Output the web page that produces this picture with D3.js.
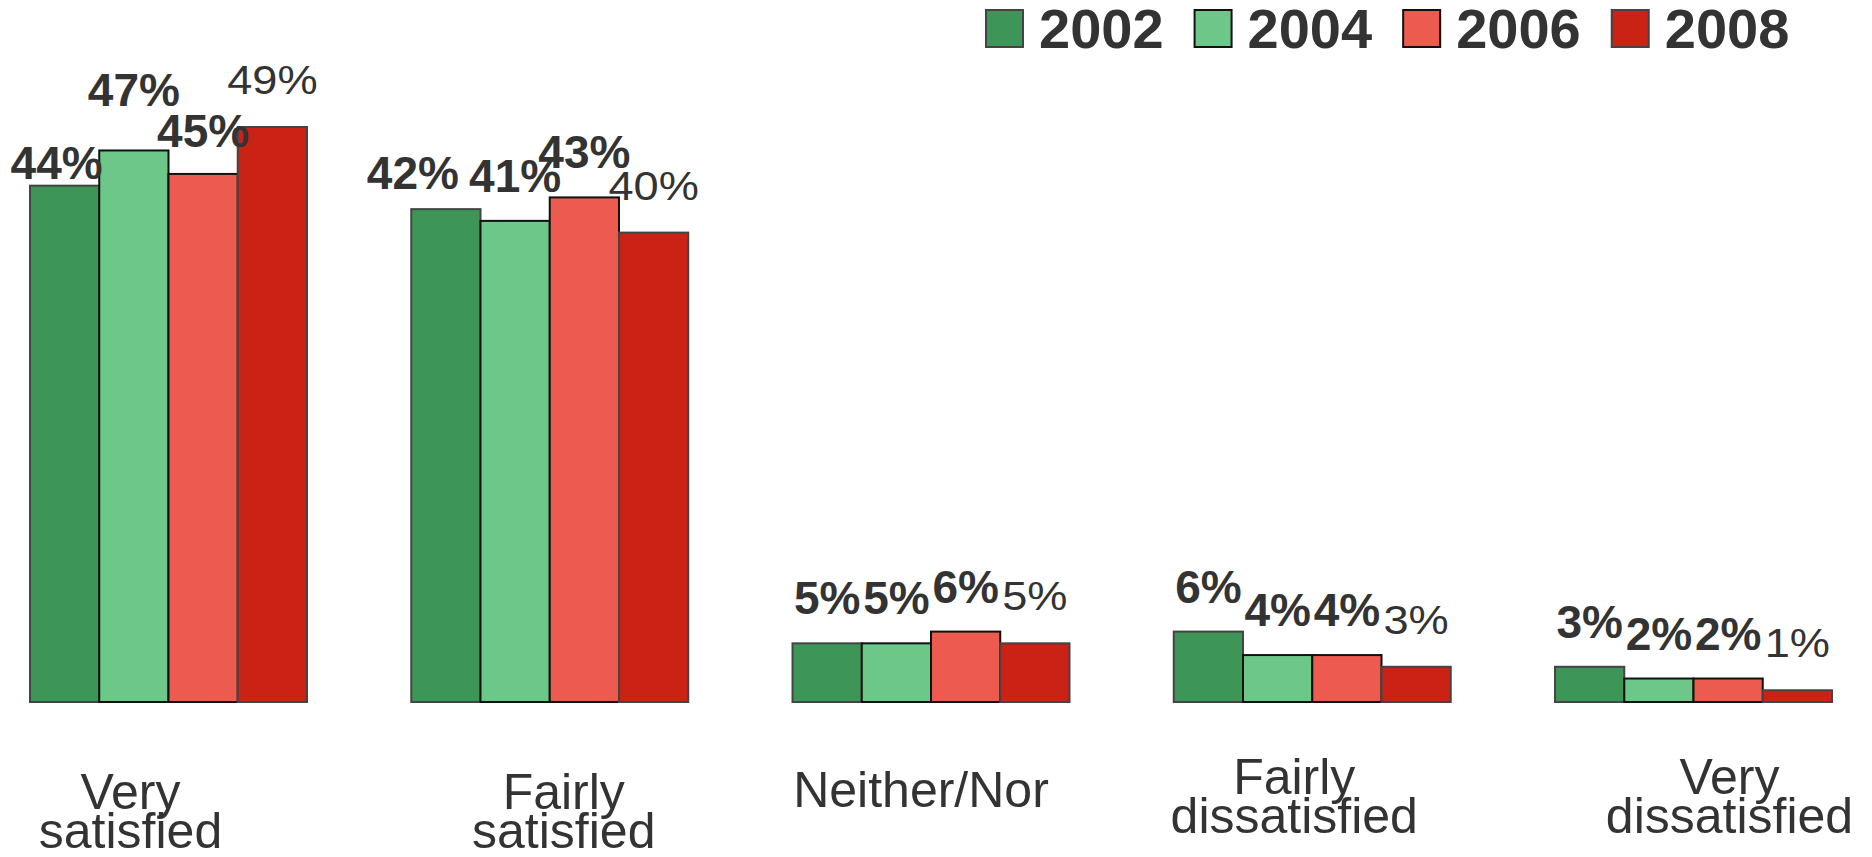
<!DOCTYPE html>
<html>
<head>
<meta charset="utf-8">
<script src="https://cdn.jsdelivr.net/npm/d3@7"></script>
<style>
  html, body { margin: 0; padding: 0; background: #fff; }
  svg text { fill: #333; }
</style>
</head>
<body>
<svg id="chart"></svg>
<script>
const categories = ['Very satisfied', 'Fairly satisfied', 'Neither/Nor', 'Fairly dissatisfied', 'Very dissatisfied'];
const years = ['2002', '2004', '2006', '2008'];
const v2002 = [44, 42, 5, 6, 3];
const v2004 = [47, 41, 5, 4, 2];
const v2006 = [45, 43, 6, 4, 2];
const v2008 = [49, 40, 5, 3, 1];
const series = [v2002, v2004, v2006, v2008];

// tick labels come wrapped onto two lines
const tickLines = [['Very', 'satisfied'], ['Fairly', 'satisfied'], ['Neither/Nor'], ['Fairly', 'dissatisfied'], ['Very', 'dissatisfied']];

const width = 1872, height = 857;
const colors = ['#3d9657', '#6cc788', '#ec5a50', '#cb2216'];
const strokes = ['#444', '#111', '#111', '#444'];

// small layout tweaks [dx, dy] for labels that were pushed apart in the original
const labelNudge = { '0-0': [-8, 22], '0-1': [0, -15], '0-2': [0, 2], '1-0': [-33, 9] };
const tickNudge = [[-38, 809], [14, 809], [-10, 807], [-18, 794], [36, 794]];

const svg = d3.select('#chart')
  .attr('width', width)
  .attr('height', height);

const x0 = d3.scaleBand()
  .domain(categories)
  .range([30, 1832])
  .paddingInner(0.2735)
  .paddingOuter(0);

const x1 = d3.scaleBand()
  .domain(years)
  .range([0, x0.bandwidth()]);

const y = d3.scaleLinear()
  .domain([0, d3.max(series.flat())])
  .range([702, 127]);

const rows = [];
categories.forEach((c, i) => {
  years.forEach((yr, j) => {
    rows.push({ c, i, yr, j, v: series[j][i] });
  });
});

const g = svg.append('g');

g.selectAll('rect.bar')
  .data(rows)
  .enter()
  .append('rect')
  .attr('class', 'bar')
  .attr('x', d => x0(d.c) + x1(d.yr))
  .attr('y', d => y(d.v))
  .attr('width', x1.bandwidth())
  .attr('height', d => y(0) - y(d.v))
  .attr('fill', d => colors[d.j])
  .attr('stroke', d => strokes[d.j])
  .attr('stroke-width', 2);

// value labels, 2008 is set in a lighter, wider face
g.selectAll('text.val')
  .data(rows)
  .enter()
  .append('text')
  .attr('class', 'val')
  .attr('text-anchor', 'middle')
  .attr('transform', d => {
    const n = labelNudge[d.i + '-' + d.j] || [0, 0];
    const cx = x0(d.c) + x1(d.yr) + x1.bandwidth() / 2 + n[0];
    const lift = d.j === 3 ? 33 : 29;
    const cy = y(d.v) - lift + n[1];
    return `translate(${cx},${cy})` + (d.j === 3 ? ' scale(1.13,1)' : '');
  })
  .style('font-family', '"Liberation Sans", Arial, sans-serif')
  .style('font-weight', d => d.j === 3 ? 400 : 700)
  .style('font-size', d => d.j === 3 ? '40px' : '46px')
  .text(d => d.v + '%');

// category labels
const ticks = svg.append('g')
  .selectAll('text.cat')
  .data(categories)
  .enter()
  .append('text')
  .attr('class', 'cat')
  .attr('text-anchor', 'middle')
  .attr('x', (d, i) => x0(d) + x0.bandwidth() / 2 + tickNudge[i][0])
  .attr('y', (d, i) => tickNudge[i][1])
  .style('font-family', '"Liberation Sans", Arial, sans-serif')
  .style('font-size', '50px');

ticks.selectAll('tspan')
  .data((d, i) => tickLines[i])
  .enter()
  .append('tspan')
  .attr('x', function () { return this.parentNode.getAttribute('x'); })
  .attr('dy', (d, k) => k === 0 ? 0 : 39)
  .text(d => d);

// legend, items laid out one after another
const leg = svg.append('g')
  .selectAll('g.leg')
  .data(years)
  .enter()
  .append('g')
  .attr('class', 'leg');

leg.append('rect')
  .attr('width', 37)
  .attr('height', 37)
  .attr('fill', (d, i) => colors[i])
  .attr('stroke', (d, i) => strokes[i])
  .attr('stroke-width', 2);

leg.append('text')
  .attr('x', 53)
  .attr('y', 38)
  .style('font-family', '"Liberation Sans", Arial, sans-serif')
  .style('font-weight', 700)
  .style('font-size', '56px')
  .text(d => d);

let lxPos = 986;
leg.each(function () {
  const item = d3.select(this);
  item.attr('transform', `translate(${lxPos},10)`);
  lxPos += 53 + item.select('text').node().getComputedTextLength() + 31;
});
</script>
</body>
</html>
